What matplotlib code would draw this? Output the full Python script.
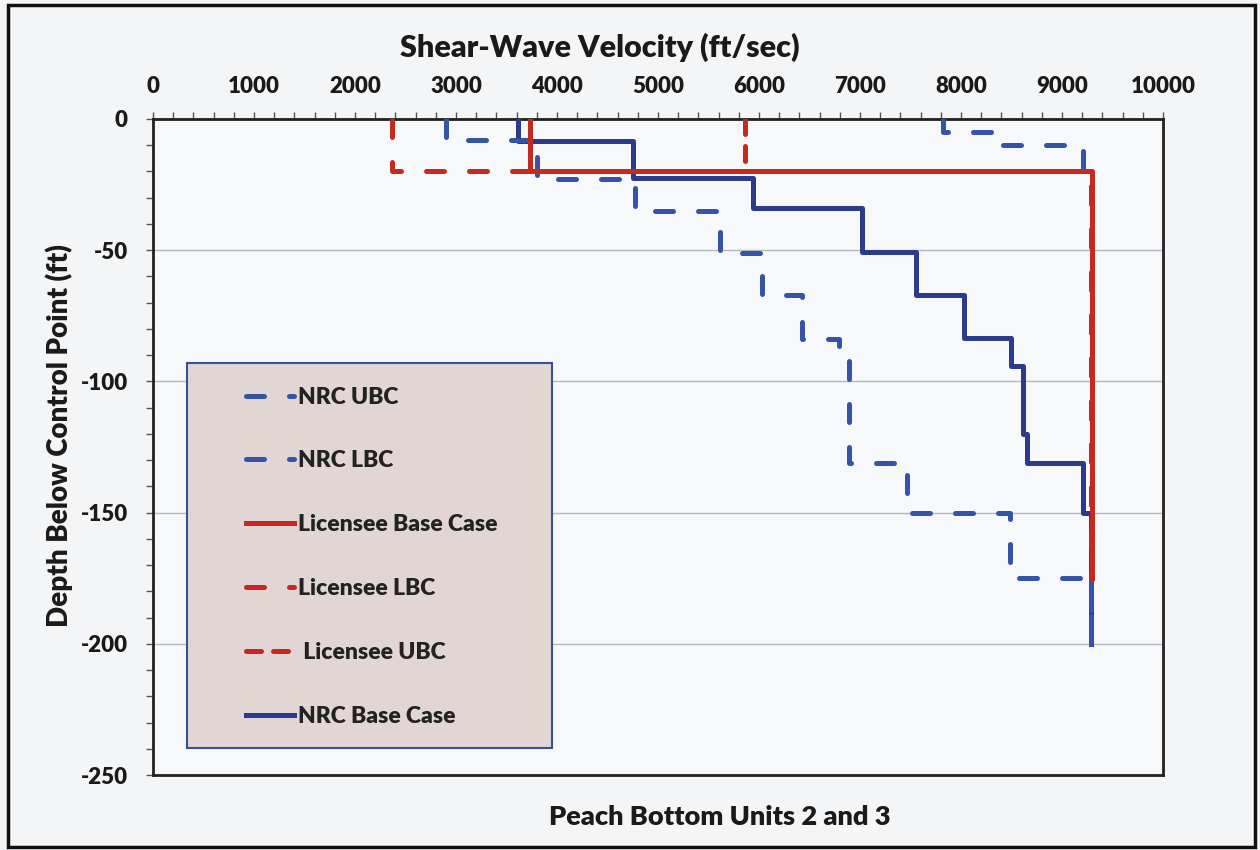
import numpy as np
import matplotlib
matplotlib.use("Agg")
import matplotlib.pyplot as plt
from matplotlib.patches import Rectangle
from matplotlib.ticker import MultipleLocator

plt.rcParams['font.family'] = ['Lato', 'DejaVu Sans']
plt.rcParams['font.weight'] = 'heavy'
plt.rcParams['axes.unicode_minus'] = False

# layer profiles: velocity (ft/sec) for each layer, depth boundaries (ft)
nrc_ubc_vel = [7820, 8340, 9210, 9290]
nrc_ubc_dep = [0, -5, -10, -20, -200]

nrc_lbc_vel = [2900, 3800, 4770, 5615, 6030, 6430, 6790, 6895, 7470, 8490, 9290]
nrc_lbc_dep = [0, -8, -23, -35, -51, -67, -84, -92, -131, -150, -175, -200]

lic_base_vel = [3730, 9300]
lic_base_dep = [0, -20, -175]

lic_lbc_vel = [2370, 9300]
lic_lbc_dep = [0, -20, -175]

lic_ubc_vel = [5860, 9300]
lic_ubc_dep = [0, -20, -175]

nrc_base_vel = [3614, 4752, 5942, 7024, 7550, 8025, 8492, 8610, 8650, 9206, 9290]
nrc_base_dep = [0, -8.4, -22.5, -34, -50.7, -67, -83.5, -94, -120, -131, -150, -200]


def profile(vel, dep):
    # turn layers into a step outline
    xs = np.repeat(vel, 2)
    ys = np.column_stack([dep[:-1], dep[1:]]).ravel()
    return xs, ys


blue_d = '#3554a6'
navy = '#2b3b8c'
red = '#c42a1f'

fig = plt.figure(figsize=(12.6, 8.5), dpi=100)
fig.patch.set_facecolor('#f4f5f7')
ax = fig.add_axes([0.1214, 0.0882, 0.8016, 0.7718])
ax.set_facecolor('#f7f8fa')

lw = 3.6
dash = (3.6, 5.0)

ax.plot(*profile(nrc_ubc_vel, nrc_ubc_dep), color=blue_d, lw=lw, dashes=dash,
        dash_capstyle='round', label='NRC UBC', zorder=4)
ax.plot(*profile(nrc_lbc_vel, nrc_lbc_dep), color=blue_d, lw=lw, dashes=dash,
        dash_capstyle='round', label='NRC LBC', zorder=4)
ax.plot(*profile(lic_base_vel, lic_base_dep), color=red, lw=lw,
        label='Licensee Base Case', zorder=5)
ax.plot(*profile(lic_lbc_vel, lic_lbc_dep), color=red, lw=lw, dashes=dash,
        dash_capstyle='round', label='Licensee LBC', zorder=4)
ax.plot(*profile(lic_ubc_vel, lic_ubc_dep), color=red, lw=lw, dashes=(3.0, 2.4),
        dash_capstyle='round', label=' Licensee UBC', zorder=4)
ax.plot(*profile(nrc_base_vel, nrc_base_dep), color=navy, lw=lw,
        label='NRC Base Case', zorder=3)

ax.set_xlim(0, 10000)
ax.set_ylim(-250, 0)
ax.xaxis.tick_top()
ax.xaxis.set_major_locator(MultipleLocator(1000))
ax.xaxis.set_minor_locator(MultipleLocator(200))
ax.yaxis.set_major_locator(MultipleLocator(50))
ax.yaxis.set_minor_locator(MultipleLocator(10))
ax.tick_params(axis='x', which='both', direction='out', length=5, width=1,
               color='#555555', pad=11, labelsize=16)
ax.tick_params(axis='y', which='both', direction='out', length=5, width=1,
               color='#555555', pad=13, labelsize=16)
ax.tick_params(labelcolor='#1a1a1a')
ax.grid(axis='y', which='major', color='#b4b6c0', lw=1, zorder=0)
for s in ax.spines.values():
    s.set_color('#222222')
    s.set_linewidth(2)

# legend box
box = Rectangle((0.034, 0.041), 0.361, 0.587, transform=ax.transAxes,
                facecolor='#e2d6d4', edgecolor='#3a4f9a', lw=1.5, zorder=6)
ax.add_patch(box)
leg = ax.legend(loc='upper left', bbox_to_anchor=(0.083, 0.606), frameon=False,
                fontsize=16.5, labelspacing=1.87, handlelength=2.1, handletextpad=0.17,
                borderaxespad=0)
leg.set_zorder(7)
for t in leg.get_texts():
    t.set_color('#222222')

fig.text(0.476, 0.944, 'Shear-Wave Velocity (ft/sec)', ha='center', va='center',
         fontsize=22, color='#1a1a1a')
fig.text(0.047, 0.488, 'Depth Below Control Point (ft)', ha='center', va='center',
         rotation=90, fontsize=20, color='#1a1a1a')
fig.text(0.571, 0.039, 'Peach Bottom Units 2 and 3', ha='center', va='center',
         fontsize=19.5, color='#1a1a1a')

fig.patches.append(Rectangle((0.006, 0.003), 0.990, 0.991, transform=fig.transFigure,
                             fill=False, edgecolor='#111111', lw=2.5))

fig.savefig('out.png', dpi=100, facecolor=fig.get_facecolor())
